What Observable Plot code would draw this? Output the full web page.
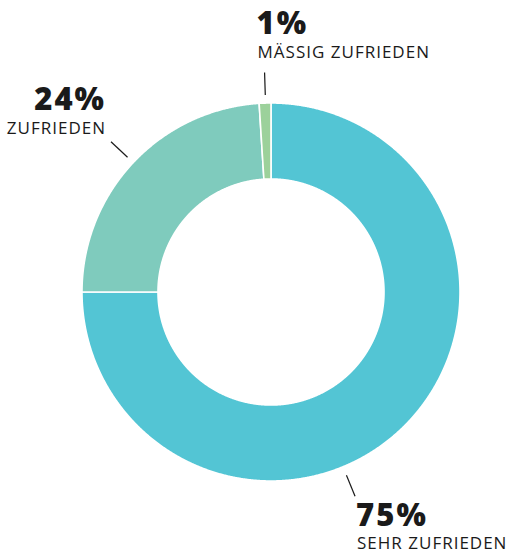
<!DOCTYPE html>
<html>
<head>
<meta charset="utf-8">
<script src="https://cdn.jsdelivr.net/npm/d3@7"></script>
<script src="https://cdn.jsdelivr.net/npm/@observablehq/plot@0.6"></script>
<style>
  body { margin: 0; background: #fff; }
  #chart svg { display: block; }
  #chart g[font-size="31"] text { letter-spacing: 2px; }
  #chart g[font-size="17"] text { letter-spacing: 1px; }
</style>
</head>
<body>
<div id="chart"></div>
<script>
// ---- data ----
const categories = ["SEHR ZUFRIEDEN", "ZUFRIEDEN", "MÄSSIG ZUFRIEDEN"];
const values = [75, 24, 1];
const percentLabels = ["75%", "24%", "1%"];
const colors = ["#53c5d4", "#7fcbbd", "#9cd19b"];

// ---- layout (label placement) ----
const innerRatio = 0.598;
const labelAngleOverride = [157.7, null, null];      // degrees clockwise from top
const labelAnchor = ["start", "end", "start"];
const labelDxPct = [1, -5, -8];
const labelDxCat = [2, -5, -7];
const pctDy = [30, -32, -38];
const catDy = [53, -8, -14];

const total = d3.sum(values);
const rad = (deg) => deg * Math.PI / 180;

// ring-segment points
const arcPts = [];
let cum = 0;
const slices = values.map((v, i) => {
  const a0 = cum / total * 360;
  cum += v;
  const a1 = cum / total * 360;
  return {cat: categories[i], a0, a1, mid: (a0 + a1) / 2};
});
slices.forEach(s => {
  const n = Math.max(2, Math.ceil((s.a1 - s.a0) / 0.25));
  for (let k = 0; k <= n; k++) {
    const a = rad(s.a0 + (s.a1 - s.a0) * k / n);
    arcPts.push({
      cat: s.cat,
      x1: Math.sin(a), y1: Math.cos(a),
      x2: Math.sin(a) * innerRatio, y2: Math.cos(a) * innerRatio
    });
  }
});

const labels = slices.map((s, i) => {
  const ang = rad(labelAngleOverride[i] ?? s.mid);
  return {
    i,
    pct: percentLabels[i],
    cat: s.cat,
    lx1: Math.sin(ang) * 1.045, ly1: Math.cos(ang) * 1.045,
    lx2: Math.sin(ang) * 1.165, ly2: Math.cos(ang) * 1.165
  };
});

const fontFamily = "'Open Sans', 'Noto Sans', sans-serif";

const chart = Plot.plot({
  width: 506,
  height: 553,
  marginLeft: 82,
  marginRight: 46,
  marginTop: 103,
  marginBottom: 72,
  x: {domain: [-1, 1], axis: null},
  y: {domain: [-1, 1], axis: null},
  color: {domain: categories, range: colors},
  style: {fontFamily, background: "#fff"},
  marks: [
    Plot.area(arcPts, {
      x1: "x1", y1: "y1", x2: "x2", y2: "y2",
      z: "cat", fill: "cat",
      stroke: "#fff", strokeWidth: 1.6, curve: "linear"
    }),
    Plot.link(labels, {
      x1: "lx1", y1: "ly1", x2: "lx2", y2: "ly2",
      stroke: "#1a1a1a", strokeWidth: 1.2
    }),
    ...labels.map(l => Plot.text([l], {
      x: "lx2", y: "ly2", text: "pct",
      dx: labelDxPct[l.i], dy: pctDy[l.i],
      textAnchor: labelAnchor[l.i], lineAnchor: "bottom",
      fontSize: 31, fontWeight: 800, fill: "#1a1a1a"
    })),
    ...labels.map(l => Plot.text([l], {
      x: "lx2", y: "ly2", text: "cat",
      dx: labelDxCat[l.i], dy: catDy[l.i],
      textAnchor: labelAnchor[l.i], lineAnchor: "bottom",
      fontSize: 17, fontWeight: 400, fill: "#1a1a1a"
    }))
  ]
});

document.getElementById("chart").appendChild(chart);
</script>
</body>
</html>
